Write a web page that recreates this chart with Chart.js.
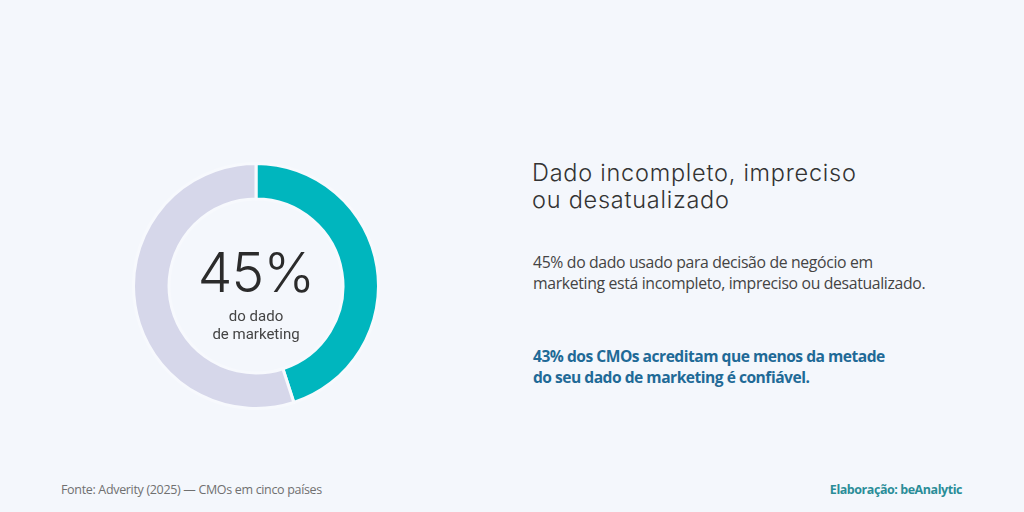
<!DOCTYPE html>
<html>
<head>
<meta charset="utf-8">
<script src="https://cdn.jsdelivr.net/npm/chart.js@4/dist/chart.umd.min.js"></script>
<style>
  html, body { margin:0; padding:0; }
  body { width:1024px; height:512px; background:#F4F7FC; position:relative; overflow:hidden; font-family:"Open Sans", sans-serif; }
  #wrap { position:absolute; left:132px; top:162px; width:248px; height:248px; }
  .center { position:absolute; left:156px; width:200px; text-align:center; }
  #big { top:245px; font-family:Inter, sans-serif; font-weight:300; font-size:55px; line-height:55px; color:#2b2b2b; letter-spacing:-0.8px; }
  #sub { top:307px; font-family:Roboto, sans-serif; font-size:15px; line-height:18px; color:#444; }
  #title { position:absolute; left:532px; top:159px; font-family:Inter, sans-serif; font-weight:300; font-size:23.5px; line-height:27px; color:#333; letter-spacing:0.75px; }
  #para { position:absolute; left:533px; top:252px; font-size:15.8px; line-height:20.5px; color:#444; letter-spacing:-0.35px; }
  #hl { position:absolute; left:533px; top:346px; font-size:15.6px; line-height:20.5px; color:#1F6A97; font-weight:700; letter-spacing:-0.5px; }
  #src { position:absolute; left:61px; top:481px; font-size:12.5px; color:#707070; letter-spacing:-0.33px; }
  #cred { position:absolute; right:62px; top:481px; font-size:12.5px; color:#2A8D98; font-weight:700; letter-spacing:-0.45px; }
</style>
</head>
<body>
<div id="wrap"><canvas id="c"></canvas></div>
<div class="center" id="big">45%</div>
<div class="center" id="sub">do dado<br>de marketing</div>
<div id="title">Dado incompleto, impreciso<br>ou desatualizado</div>
<div id="para">45% do dado usado para decisão de negócio em<br>marketing está incompleto, impreciso ou desatualizado.</div>
<div id="hl">43% dos CMOs acreditam que menos da metade<br>do seu dado de marketing é confiável.</div>
<div id="src">Fonte: Adverity (2025) — CMOs em cinco países</div>
<div id="cred">Elaboração: beAnalytic</div>
<script>
const categories = ["Dado incompleto, impreciso ou desatualizado", "Restante"];
const values = [45, 55];
const colors = ["#00B6BE", "#D6D7EA"];

new Chart(document.getElementById('c'), {
  type: 'doughnut',
  data: {
    labels: categories,
    datasets: [{
      data: values,
      backgroundColor: colors,
      borderColor: "#F7F9FD",
      borderWidth: 3,
      hoverOffset: 0
    }]
  },
  options: {
    responsive: true,
    maintainAspectRatio: false,
    animation: false,
    cutout: '71%',
    rotation: 0,
    layout: { padding: 0 },
    plugins: { legend: { display: false }, tooltip: { enabled: false } }
  }
});
</script>
</body>
</html>
